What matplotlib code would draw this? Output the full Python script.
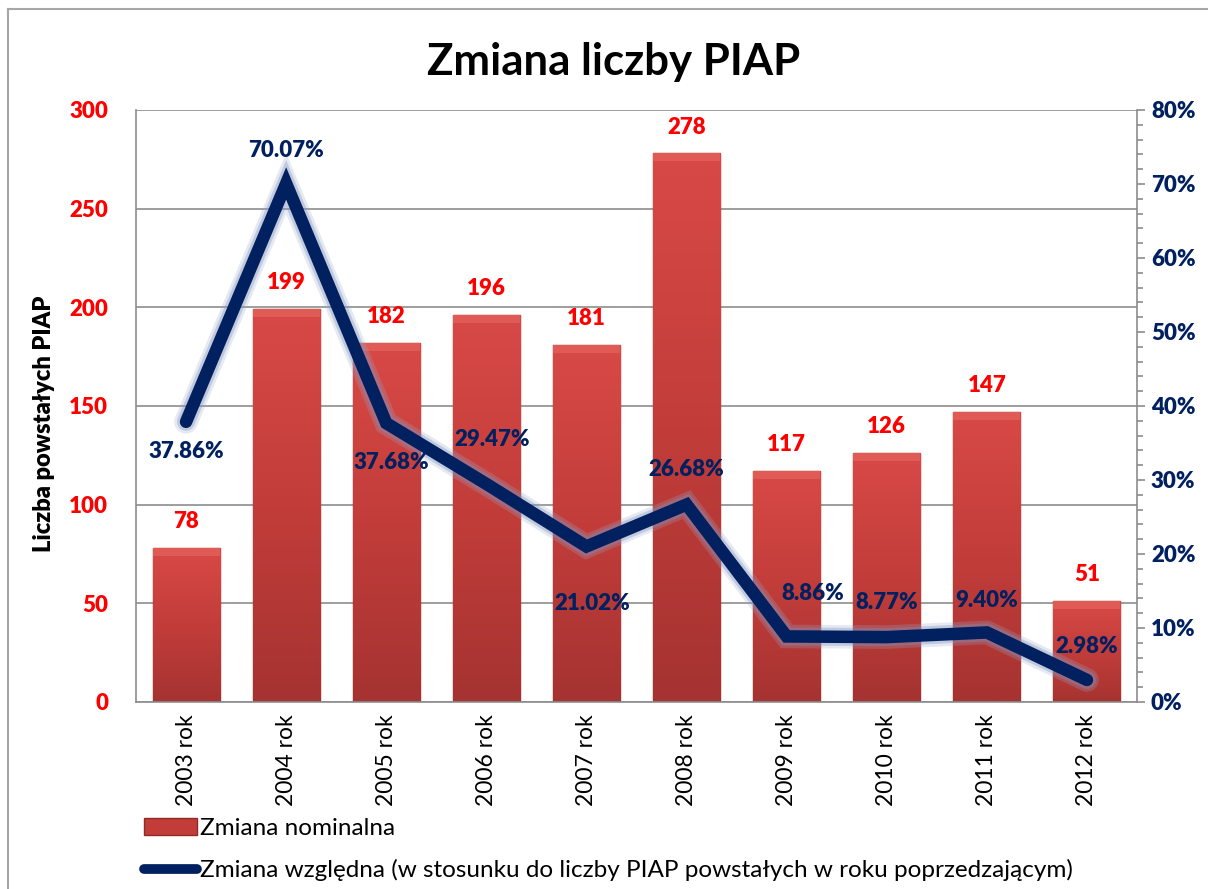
import matplotlib
matplotlib.use("Agg")
import matplotlib.pyplot as plt
import matplotlib.patheffects as pe
from matplotlib.patches import Patch
from matplotlib.lines import Line2D
from matplotlib.ticker import MultipleLocator, PercentFormatter
import numpy as np

plt.rcParams['font.family'] = ['Lato', 'DejaVu Sans']

# data
years = ['2003 rok', '2004 rok', '2005 rok', '2006 rok', '2007 rok',
         '2008 rok', '2009 rok', '2010 rok', '2011 rok', '2012 rok']
nominal = [78, 199, 182, 196, 181, 278, 117, 126, 147, 51]
relative = [37.86, 70.07, 37.68, 29.47, 21.02, 26.68, 8.86, 8.77, 9.40, 2.98]

# label offsets for the percent labels (points)
pct_offsets = [(0, -21), (0, 24), (4, -28), (4, 32), (4, -41),
               (0, 25), (19, 31), (0, 25), (0, 23), (0, 24)]

RED = '#FF0000'
NAVY = '#002060'
GRID = '#8C8C8C'
W = 'heavy'

fig = plt.figure(figsize=(12.08, 8.89), dpi=100)
ax = fig.add_axes([136/1208, 1 - 702/889, 1001/1208, 592/889])

x = np.arange(len(years))
bars = ax.bar(x, nominal, width=0.67, color='#C8403C', edgecolor='#8E2A28',
              linewidth=1.0, zorder=2)

# vertical gradient fill for each bar
grad = np.linspace(0, 1, 256).reshape(-1, 1)
cmap = matplotlib.colors.LinearSegmentedColormap.from_list(
    'barg', ['#A53331', '#C23D3A', '#D84946'])
for b in bars:
    bx, by = b.get_x(), b.get_y()
    w, h = b.get_width(), b.get_height()
    im = ax.imshow(grad, extent=[bx, bx + w, by, by + h], origin='lower',
                   cmap=cmap, aspect='auto', zorder=2.5)
    im.set_clip_path(b)
    # lighter bevel at the top
    ax.fill_between([bx, bx + w], by + h - 4, by + h, color='#E05A56',
                    zorder=2.6, linewidth=0)

for xi, v in zip(x, nominal):
    ax.annotate(str(v), (xi, v), xytext=(0, 19), textcoords='offset points',
                ha='center', va='center', color=RED, fontsize=16,
                fontweight=W, zorder=5)

ax.set_xlim(-0.5, len(years) - 0.5)
ax.set_ylim(0, 300)
ax.set_yticks(range(0, 301, 50))
ax.set_xticks(x)
ax.set_xticklabels(years, rotation=90, fontsize=16.5)
ax.tick_params(axis='x', length=0, pad=9)
ax.tick_params(axis='y', length=0, pad=20, labelcolor=RED, labelsize=16)
ax.yaxis.grid(True, color=GRID, linewidth=1.2, zorder=0)
ax.set_axisbelow(True)
for s in ['left', 'bottom']:
    ax.spines[s].set_color(GRID)
    ax.spines[s].set_linewidth(1.2)
ax.spines['top'].set_visible(False)
ax.spines['right'].set_visible(False)
ax.set_ylabel('Liczba powstałych PIAP', fontsize=17, fontweight=W)
ax.yaxis.set_label_coords(-0.081, 0.47)

ax2 = ax.twinx()
ax2.set_ylim(0, 80)
ax2.yaxis.set_major_locator(MultipleLocator(10))
ax2.yaxis.set_minor_locator(MultipleLocator(2))
ax2.yaxis.set_major_formatter(PercentFormatter(decimals=0))
ax2.tick_params(axis='y', which='major', length=6, width=1.2, color=GRID,
                pad=4, labelcolor=NAVY, labelsize=16)
ax2.tick_params(axis='y', which='minor', length=4, width=1.2, color=GRID)
for s in ['left', 'top', 'bottom']:
    ax2.spines[s].set_visible(False)
ax2.spines['right'].set_color(GRID)
ax2.spines['right'].set_linewidth(1.2)

ax2.plot(x, relative, color=NAVY, linewidth=9, solid_joinstyle='miter',
         solid_capstyle='round', zorder=3,
         path_effects=[pe.Stroke(linewidth=17, foreground='#9AA8CC', alpha=0.25),
                       pe.Stroke(linewidth=13, foreground='#7F90BD', alpha=0.35),
                       pe.Normal()])

for xi, v, off in zip(x, relative, pct_offsets):
    ax2.annotate(f'{v:.2f}%', (xi, v), xytext=off, textcoords='offset points',
                 ha='center', va='center', color=NAVY, fontsize=16,
                 fontweight=W, zorder=6)

fig.text(0.508, 1 - 62/889, 'Zmiana liczby PIAP', ha='center', va='center',
         fontsize=31.5, fontweight='bold')

# chart area border (top and left visible)
fig.add_artist(Line2D([8/1208, 8/1208], [0, 1 - 9/889], color='#A6A6A6',
                      linewidth=1.5, transform=fig.transFigure))
fig.add_artist(Line2D([8/1208, 1], [1 - 9/889, 1 - 9/889], color='#A6A6A6',
                      linewidth=1.5, transform=fig.transFigure))

handles = [Patch(facecolor='#C23D3A', edgecolor='#8E2A28'),
           Line2D([0], [0], color=NAVY, linewidth=7, solid_capstyle='round')]
labels = ['Zmiana nominalna',
          'Zmiana względna (w stosunku do liczby PIAP powstałych w roku poprzedzającym)']
fig.legend(handles, labels, loc='lower left',
           bbox_to_anchor=(128/1208, -8/889),
           frameon=False, fontsize=17.5, handlelength=2.2, handletextpad=0.1,
           labelspacing=0.83, borderaxespad=0.25)

# keep the tick labels bold (after formatters have made them)
fig.canvas.draw()
for lab in ax.get_yticklabels() + ax2.get_yticklabels():
    lab.set_fontweight(W)

fig.savefig('out.png', dpi=100)
